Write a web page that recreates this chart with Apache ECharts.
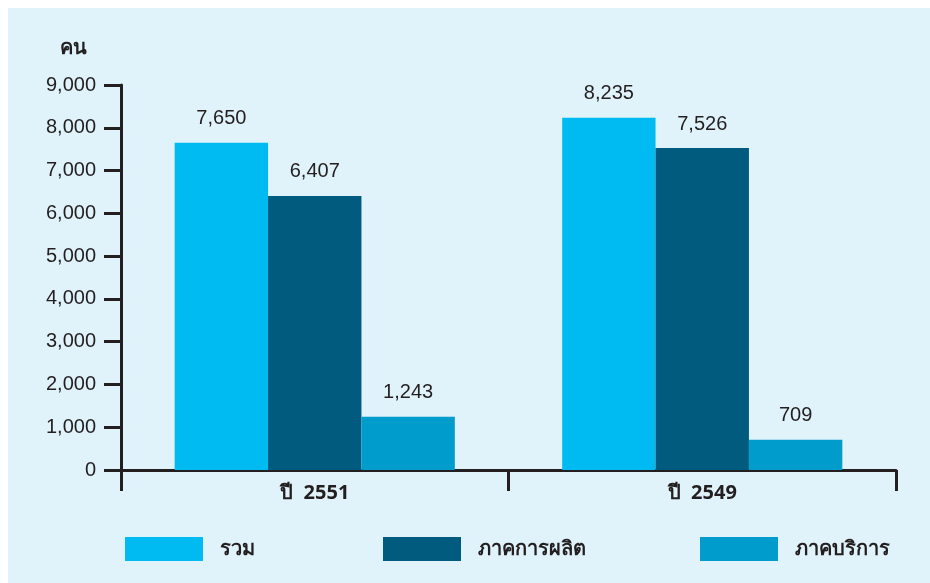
<!DOCTYPE html>
<html>
<head>
<meta charset="utf-8">
<script src="https://cdn.jsdelivr.net/npm/echarts@6/dist/echarts.min.js"></script>
<style>
  html, body { margin: 0; padding: 0; background: #ffffff; }
  #panel { position: absolute; left: 8px; top: 8px; width: 922px; height: 575px; background: #e0f2fa; }
</style>
</head>
<body>
<div id="panel"></div>
<script>
// Employment by sector (persons)
const categories = ['ปี  2551', 'ปี  2549'];
const seriesNames = ['รวม', 'ภาคการผลิต', 'ภาคบริการ'];
const totalValues = [7650, 8235];
const manufacturingValues = [6407, 7526];
const serviceValues = [1243, 709];
const yTicks = [0, 1000, 2000, 3000, 4000, 5000, 6000, 7000, 8000, 9000];

const colors = ['#00bbf1', '#005b7f', '#009ccc'];
const ink = '#231f20';
const thaiFont = '"Noto Sans", "DejaVu Sans", "Liberation Sans", sans-serif';
const numFont = '"Liberation Sans", Arial, sans-serif';

const fmt = v => Number(v).toLocaleString('en-US');

const valueSets = [totalValues, manufacturingValues, serviceValues];

const chart = echarts.init(document.getElementById('panel'));

const legendLefts = [112, 370, 687];

chart.setOption({
  animation: false,
  backgroundColor: 'transparent',
  grid: { left: 113, right: 34, top: 77, bottom: 113 },
  legend: seriesNames.map((n, i) => ({
    data: [n],
    left: legendLefts[i],
    top: 524,
    icon: 'rect',
    itemWidth: 78,
    itemHeight: 24,
    selectedMode: false,
    textStyle: {
      color: ink, fontFamily: thaiFont, fontWeight: 'bold', fontSize: 20,
      padding: [0, 0, 0, 12]
    }
  })),
  xAxis: {
    type: 'category',
    data: categories,
    axisLine: { lineStyle: { color: ink, width: 3 } },
    axisTick: { show: true, length: 21, lineStyle: { color: ink, width: 3 } },
    axisLabel: {
      color: ink, fontFamily: thaiFont, fontWeight: 'bold', fontSize: 20, margin: 13
    }
  },
  yAxis: {
    type: 'value',
    min: yTicks[0],
    max: yTicks[yTicks.length - 1],
    interval: yTicks[1] - yTicks[0],
    name: 'คน',
    nameLocation: 'end',
    nameGap: 27,
    nameTextStyle: {
      color: ink, fontFamily: thaiFont, fontWeight: 'bold', fontSize: 20,
      align: 'right', padding: [0, 34, 0, 0]
    },
    axisLine: { show: true, lineStyle: { color: ink, width: 3 } },
    axisTick: { show: true, length: 17, lineStyle: { color: ink, width: 3 } },
    splitLine: { show: false },
    axisLabel: {
      color: ink, fontFamily: numFont, fontSize: 20, margin: 25,
      formatter: v => fmt(v)
    }
  },
  series: seriesNames.map((n, i) => ({
    name: n,
    type: 'bar',
    data: valueSets[i],
    barGap: '0%',
    barCategoryGap: '27.7%',
    itemStyle: { color: colors[i] },
    label: {
      show: true,
      position: 'top',
      distance: 14,
      color: ink,
      fontFamily: numFont,
      fontSize: 20,
      formatter: p => fmt(p.value)
    }
  }))
});
</script>
</body>
</html>
